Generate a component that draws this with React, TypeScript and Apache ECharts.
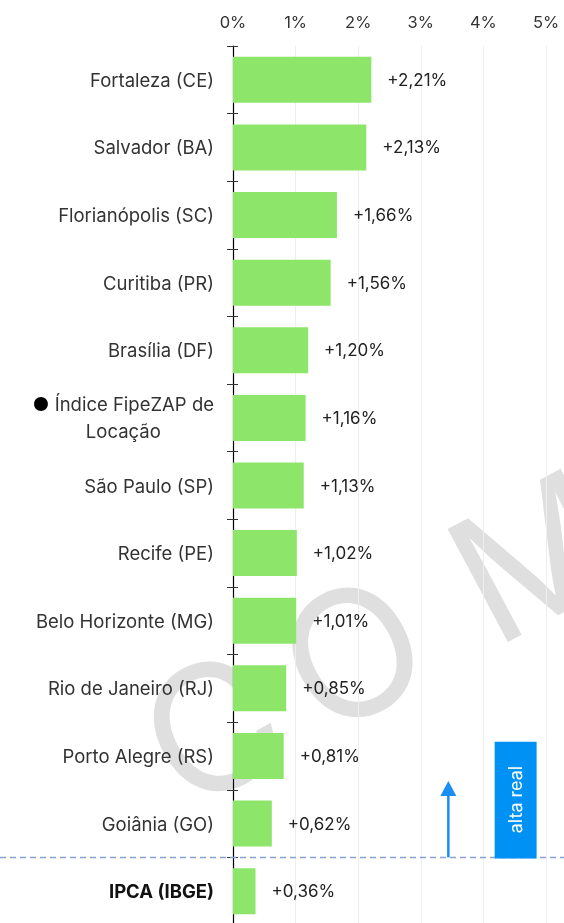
import React, { useEffect, useRef } from 'react';
import * as echarts from 'echarts';

const categories = [
  'Fortaleza (CE)',
  'Salvador (BA)',
  'Florianópolis (SC)',
  'Curitiba (PR)',
  'Brasília (DF)',
  'Índice FipeZAP de Locação',
  'São Paulo (SP)',
  'Recife (PE)',
  'Belo Horizonte (MG)',
  'Rio de Janeiro (RJ)',
  'Porto Alegre (RS)',
  'Goiânia (GO)',
  'IPCA (IBGE)',
];
const values = [2.21, 2.13, 1.66, 1.56, 1.2, 1.16, 1.13, 1.02, 1.01, 0.85, 0.81, 0.62, 0.36];
const xMin = 0;
const xMax = 5;
const xInterval = 1;
const arrowValue = 3.44;
const boxRange = [4.18, 4.85];
const boxLabel = 'alta real';
const watermarkLetters = ['C', 'O', 'M'];
const watermarkSteps = [-10, 150, 356];

const FONT = 'Inter, "Open Sans", sans-serif';
const fmtValue = (v: number) => '+' + v.toFixed(2).replace('.', ',') + '%';

export default function App() {
  const ref = useRef<HTMLDivElement>(null);
  useEffect(() => {
    const chart = echarts.init(ref.current!, null, { renderer: 'svg' });
    const option: any = {
      animation: false,
      textStyle: { fontFamily: FONT },
      grid: { left: 233, right: 18, top: 46, bottom: 3, containLabel: false },
      xAxis: {
        type: 'value',
        position: 'top',
        min: xMin,
        max: xMax,
        interval: xInterval,
        axisLine: { show: false },
        axisTick: { show: false },
        axisLabel: { formatter: '{value}%', color: '#333', fontSize: 16.5, margin: 16, fontFamily: FONT },
        splitLine: { show: true, lineStyle: { color: '#eeeeee', width: 1 } },
      },
      yAxis: [
        {
          type: 'category',
          data: categories,
          inverse: true,
          axisLine: { show: true, lineStyle: { color: '#000', width: 1.2 } },
          axisTick: { show: true, length: 6, lineStyle: { color: '#333' } },
          axisLabel: {
            color: '#333',
            fontSize: 18.5,
            margin: 19,
            fontFamily: FONT,
            lineHeight: 27,
            formatter: (v: string) => {
              if (v === 'Índice FipeZAP de Locação') return '{dot|●} Índice FipeZAP de\n{c|Locação}';
              if (v === 'IPCA (IBGE)') return '{b|IPCA (IBGE)}';
              return v;
            },
            rich: {
              dot: { fontSize: 18.5, color: '#000', fontFamily: FONT, lineHeight: 27 },
              c: { align: 'center', fontSize: 18.5, color: '#333', fontFamily: FONT, lineHeight: 27 },
              b: { fontWeight: 'bold', fontSize: 18.5, color: '#111', fontFamily: FONT },
            },
          },
          splitLine: { show: false },
        },
        {
          type: 'category',
          data: categories,
          inverse: true,
          position: 'left',
          axisLine: { show: false },
          axisTick: { show: true, inside: true, length: 5, lineStyle: { color: '#333' } },
          axisLabel: { show: false },
          splitLine: { show: false },
        },
      ],
      series: [
        {
          type: 'bar',
          yAxisIndex: 0,
          data: values,
          barWidth: 46,
          itemStyle: { color: '#8de66a' },
          z: 2,
          label: {
            show: true,
            position: 'right',
            distance: 16,
            color: '#222',
            fontSize: 17,
            fontFamily: FONT,
            formatter: (p: any) => fmtValue(p.value),
          },
        },
      ],
    };
    chart.setOption(option);

    const y11 = chart.convertToPixel({ yAxisIndex: 0 }, categories[11]) as number;
    const y12 = chart.convertToPixel({ yAxisIndex: 0 }, categories[12]) as number;
    const band = y12 - y11;
    const yb = (y11 + y12) / 2;
    const xa = chart.convertToPixel({ xAxisIndex: 0 }, arrowValue) as number;
    const xb0 = chart.convertToPixel({ xAxisIndex: 0 }, boxRange[0]) as number;
    const xb1 = chart.convertToPixel({ xAxisIndex: 0 }, boxRange[1]) as number;
    const tip = yb - band * 1.13;
    const boxTop = yb - band * 1.71;

    const rot = 0.49;
    const ox = 220;
    const oy = 723;
    const watermark = watermarkLetters.map((t, i) => ({
      type: 'text',
      x: ox + Math.cos(rot) * watermarkSteps[i],
      y: oy - Math.sin(rot) * watermarkSteps[i],
      rotation: rot,
      z: -10,
      silent: true,
      style: {
        text: t,
        fontSize: 176,
        fontWeight: 400,
        fontFamily: FONT,
        fill: '#dfdfdf',
        align: 'center',
        verticalAlign: 'middle',
      },
    }));

    chart.setOption({
      graphic: [
        ...watermark,
        {
          type: 'line',
          z: 50,
          shape: { x1: 0, y1: yb, x2: 564, y2: yb },
          style: { stroke: '#86a3d4', lineWidth: 1.5, lineDash: [6, 4] },
        },
        {
          type: 'line',
          z: 51,
          shape: { x1: xa, y1: yb, x2: xa, y2: tip + 12 },
          style: { stroke: '#1a8ff2', lineWidth: 2.5 },
        },
        {
          type: 'polygon',
          z: 51,
          shape: { points: [[xa, tip], [xa - 8, tip + 15], [xa + 8, tip + 15]] },
          style: { fill: '#1a8ff2' },
        },
        {
          type: 'rect',
          z: 52,
          shape: { x: xb0, y: boxTop, width: xb1 - xb0, height: yb + 1 - boxTop },
          style: { fill: '#0091f5' },
        },
        {
          type: 'text',
          z: 53,
          x: (xb0 + xb1) / 2,
          y: (boxTop + yb) / 2,
          rotation: Math.PI / 2,
          style: {
            text: boxLabel,
            fill: '#ffffff',
            fontSize: 18,
            fontFamily: FONT,
            align: 'center',
            verticalAlign: 'middle',
          },
        },
      ],
    });
    return () => chart.dispose();
  }, []);
  return <div ref={ref} style={{ position: 'fixed', left: 0, top: 0, width: 564, height: 928 }} />;
}
